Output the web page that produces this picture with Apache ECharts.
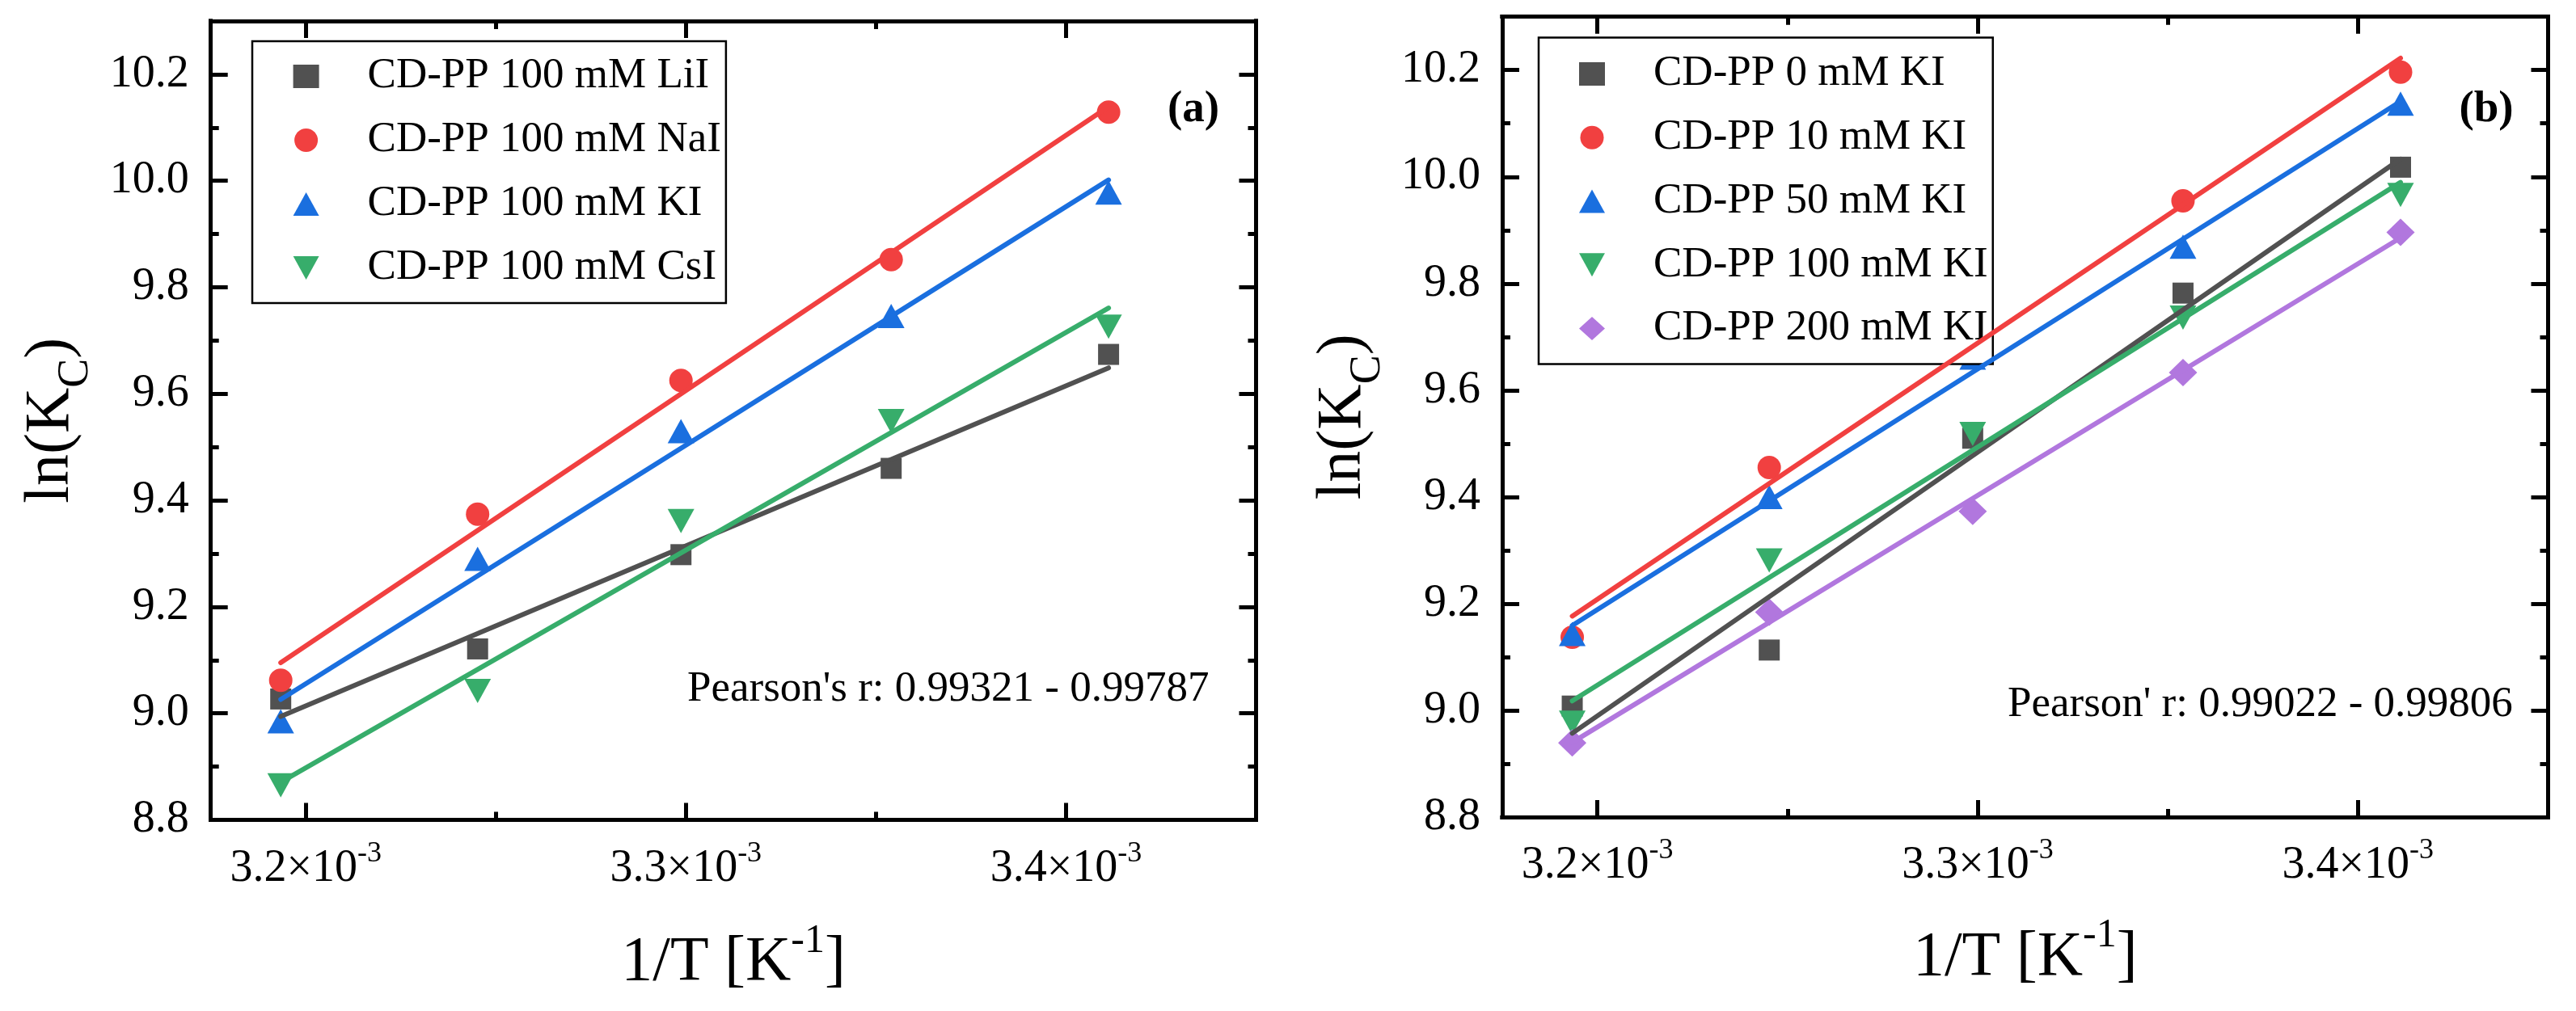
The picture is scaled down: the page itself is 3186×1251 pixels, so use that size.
<!DOCTYPE html>
<html>
<head>
<meta charset="utf-8">
<script src="https://cdn.jsdelivr.net/npm/echarts@6/dist/echarts.min.js"></script>
<style>html,body{margin:0;padding:0;background:#fff}#c{width:3186px;height:1251px}</style>
</head>
<body>
<div id="c"></div>
<script>
// ---------- data ----------
const invT = [0.0031934, 0.0032452, 0.0032987, 0.0033540, 0.0034112]; // 1/T [K^-1]

// panel (a): 100 mM of different iodide salts
const aLiI = [9.027, 9.121, 9.298, 9.460, 9.674];
const aNaI = [9.062, 9.374, 9.625, 9.852, 10.129];
const aKI  = [8.985, 9.290, 9.530, 9.746, 9.978];
const aCsI = [8.865, 9.042, 9.361, 9.549, 9.726];
const aLabels = ['CD-PP 100 mM LiI', 'CD-PP 100 mM NaI', 'CD-PP 100 mM KI', 'CD-PP 100 mM CsI'];

// panel (b): different KI concentrations
const b0   = [9.008, 9.113, 9.510, 9.782, 10.018];
const b10  = [9.137, 9.455, 9.711, 9.955, 10.196];
const b50  = [9.143, 9.400, 9.661, 9.869, 10.137];
const b100 = [8.977, 9.281, 9.518, 9.736, 9.966];
const b200 = [8.939, 9.184, 9.373, 9.633, 9.896];
const bLabels = ['CD-PP 0 mM KI', 'CD-PP 10 mM KI', 'CD-PP 50 mM KI', 'CD-PP 100 mM KI', 'CD-PP 200 mM KI'];

// ticks / ranges
const xRange = [0.003175, 0.00345];
const yRange = [8.8, 10.3];
const xMajorTicks = [0.0032, 0.0033, 0.0034];
const xMinorTicks = [0.00325, 0.00335];
const yMajorTicks = [8.8, 9.0, 9.2, 9.4, 9.6, 9.8, 10.0, 10.2];
const yMinorTicks = [8.9, 9.1, 9.3, 9.5, 9.7, 9.9, 10.1];

const panelLabels = ['(a)', '(b)'];
const pearsonTexts = ["Pearson's r: 0.99321 - 0.99787", "Pearson' r: 0.99022 - 0.99806"];

// ---------- styling ----------
const FF = '"Liberation Serif", "Times New Roman", serif';
const C_GRAY = '#515151', C_RED = '#F14040', C_BLUE = '#1A6FDF', C_GREEN = '#37AD6B', C_PURPLE = '#B177DE';
const DOWN_TRI = 'path://M0,0 L33,0 L16.5,30 Z';

const lineStyleAxis = {color: '#000', width: 5, cap: 'square'};
const tickStyle = {color: '#000', width: 5};

function makeXAxes(gi, nameGap) {
  const base = {type: 'value', gridIndex: gi, min: xRange[0], max: xRange[1],
    splitLine: {show: false}, silent: true,
    axisLine: {show: true, onZero: false, lineStyle: lineStyleAxis}};
  const major = {show: true, inside: true, length: 21, lineStyle: tickStyle, customValues: xMajorTicks};
  const minor = {show: true, inside: true, length: 10, lineStyle: tickStyle, customValues: xMinorTicks};
  return [
    Object.assign({}, base, {position: 'bottom', axisTick: major,
      axisLabel: {show: true, margin: 24, customValues: xMajorTicks, fontFamily: FF,
        formatter: v => '{a|' + (v * 1000).toFixed(1) + '×10}{b|-3}',
        rich: {a: {fontSize: 56, lineHeight: 73, fontFamily: FF, color: '#000'},
               b: {fontSize: 36, lineHeight: 36, verticalAlign: 'top', fontFamily: FF, color: '#000'}}},
      name: '{a|1/T [K}{b|-1}{a|]}', nameLocation: 'middle', nameGap: nameGap, nameMoveOverlap: false,
      nameTextStyle: {color: '#000', fontFamily: FF,
        rich: {a: {fontSize: 78, lineHeight: 105, fontFamily: FF, color: '#000'},
               b: {fontSize: 50, lineHeight: 50, verticalAlign: 'top', fontFamily: FF, color: '#000'}}}}),
    Object.assign({}, base, {position: 'bottom', axisTick: minor, axisLabel: {show: false}}),
    Object.assign({}, base, {position: 'top', axisTick: major, axisLabel: {show: false}}),
    Object.assign({}, base, {position: 'top', axisTick: minor, axisLabel: {show: false}})
  ];
}

function makeYAxes(gi, nameGap) {
  const base = {type: 'value', gridIndex: gi, min: yRange[0], max: yRange[1],
    splitLine: {show: false}, silent: true,
    axisLine: {show: true, onZero: false, lineStyle: lineStyleAxis}};
  const major = {show: true, inside: true, length: 21, lineStyle: tickStyle, customValues: yMajorTicks};
  const minor = {show: true, inside: true, length: 10, lineStyle: tickStyle, customValues: yMinorTicks};
  return [
    Object.assign({}, base, {position: 'left', axisTick: major,
      axisLabel: {show: true, margin: 27, customValues: yMajorTicks, formatter: v => v.toFixed(1),
        fontSize: 56, fontFamily: FF, color: '#000'},
      name: '{a|ln(K}{b|C}{a|)}', nameLocation: 'middle', nameGap: nameGap, nameMoveOverlap: false,
      nameTextStyle: {color: '#000', fontFamily: FF,
        rich: {a: {fontSize: 78, lineHeight: 115, fontFamily: FF, color: '#000'},
               b: {fontSize: 54, lineHeight: 54, verticalAlign: 'bottom', fontFamily: FF, color: '#000'}}}}),
    Object.assign({}, base, {position: 'left', axisTick: minor, axisLabel: {show: false}}),
    Object.assign({}, base, {position: 'right', axisTick: major, axisLabel: {show: false}}),
    Object.assign({}, base, {position: 'right', axisTick: minor, axisLabel: {show: false}})
  ];
}

function scatter(id, ys, symbol, size, color, gi) {
  return {type: 'scatter', name: id, xAxisIndex: gi * 4, yAxisIndex: gi * 4,
    data: invT.map((x, i) => [x, ys[i]]), symbol: symbol, symbolSize: size,
    itemStyle: {color: color, opacity: 1}, z: 3, silent: true, animation: false};
}

// least-squares linear fit through the read points (as in the original figure)
function fit(ys, color, gi) {
  const n = invT.length;
  const mx = invT.reduce((s, v) => s + v, 0) / n;
  const my = ys.reduce((s, v) => s + v, 0) / n;
  let sxy = 0, sxx = 0;
  for (let i = 0; i < n; i++) { sxy += (invT[i] - mx) * (ys[i] - my); sxx += (invT[i] - mx) ** 2; }
  const k = sxy / sxx;
  const x0 = invT[0], x1 = invT[n - 1];
  return {type: 'line', xAxisIndex: gi * 4, yAxisIndex: gi * 4, symbol: 'none', silent: true,
    data: [[x0, my + k * (x0 - mx)], [x1, my + k * (x1 - mx)]],
    lineStyle: {color: color, width: 6, cap: 'round'}, itemStyle: {color: color}, z: 4, animation: false};
}

const labelMap = {a0: aLabels[0], a1: aLabels[1], a2: aLabels[2], a3: aLabels[3],
  b0: bLabels[0], b1: bLabels[1], b2: bLabels[2], b3: bLabels[3], b4: bLabels[4]};

const legendText = {fontSize: 53, fontFamily: FF, color: '#000', lineHeight: 40, padding: [0, 0, 0, 55]};

const option = {
  backgroundColor: '#fff',
  animation: false,
  textStyle: {fontFamily: FF},
  grid: [
    {left: 260.7, top: 26, width: 1292.8, height: 988.5, containLabel: false, outerBoundsMode: 'none'},
    {left: 1858, top: 20.7, width: 1293.5, height: 990.3, containLabel: false, outerBoundsMode: 'none'}
  ],
  xAxis: [...makeXAxes(0, 125), ...makeXAxes(1, 122)],
  yAxis: [...makeYAxes(0, 140), ...makeYAxes(1, 139)],
  legend: [
    {orient: 'vertical', left: 312, top: 51, padding: [17, 6, 17, 50.6], itemGap: 26,
     itemWidth: 32, itemHeight: 29, borderColor: '#000', borderWidth: 2.5, backgroundColor: '#fff',
     selectedMode: false, data: ['a0', 'a1', 'a2', 'a3'], formatter: n => labelMap[n], textStyle: legendText},
    {orient: 'vertical', left: 1903, top: 46.4, padding: [18.6, 6, 17.6, 50], itemGap: 25.75,
     itemWidth: 32, itemHeight: 29, borderColor: '#000', borderWidth: 2.5, backgroundColor: '#fff',
     selectedMode: false, data: ['b0', 'b1', 'b2', 'b3', 'b4'], formatter: n => labelMap[n], textStyle: legendText}
  ],
  graphic: [
    {type: 'text', x: 850, y: 853, z: 10, style: {text: pearsonTexts[0], font: '53px ' + FF, fill: '#000', align: 'left', verticalAlign: 'middle'}},
    {type: 'text', x: 2483, y: 872, z: 10, style: {text: pearsonTexts[1], font: '53px ' + FF, fill: '#000', align: 'left', verticalAlign: 'middle'}},
    {type: 'text', x: 1476, y: 136, z: 10, style: {text: panelLabels[0], font: 'bold 55px ' + FF, fill: '#000', align: 'center', verticalAlign: 'middle'}},
    {type: 'text', x: 3075, y: 136, z: 10, style: {text: panelLabels[1], font: 'bold 55px ' + FF, fill: '#000', align: 'center', verticalAlign: 'middle'}}
  ],
  series: [
    scatter('a0', aLiI, 'rect', 26, C_GRAY, 0),
    scatter('a1', aNaI, 'circle', 29, C_RED, 0),
    scatter('a2', aKI, 'triangle', [33, 30], C_BLUE, 0),
    scatter('a3', aCsI, DOWN_TRI, [33, 30], C_GREEN, 0),
    fit(aLiI, C_GRAY, 0), fit(aNaI, C_RED, 0), fit(aKI, C_BLUE, 0), fit(aCsI, C_GREEN, 0),
    scatter('b0', b0, 'rect', 26, C_GRAY, 1),
    scatter('b1', b10, 'circle', 29, C_RED, 1),
    scatter('b2', b50, 'triangle', [33, 30], C_BLUE, 1),
    scatter('b3', b100, DOWN_TRI, [33, 30], C_GREEN, 1),
    scatter('b4', b200, 'diamond', [35, 34], C_PURPLE, 1),
    fit(b0, C_GRAY, 1), fit(b10, C_RED, 1), fit(b50, C_BLUE, 1), fit(b100, C_GREEN, 1), fit(b200, C_PURPLE, 1)
  ]
};

const chart = echarts.init(document.getElementById('c'), null, {renderer: 'canvas', width: 3186, height: 1251});
chart.setOption(option);
</script>
</body>
</html>
